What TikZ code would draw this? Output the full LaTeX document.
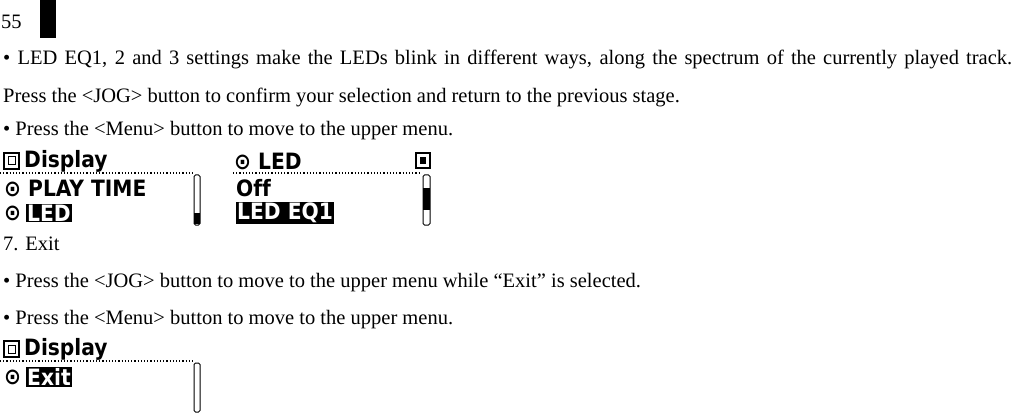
\documentclass[tikz,border=0pt]{standalone}
\usepackage{fontspec}
\setmainfont{Liberation Serif}
\newfontfamily\lcd{DejaVu Sans Condensed}
\begin{document}
\begin{tikzpicture}[x=1pt,y=-1pt,
  body/.style={anchor=west,inner sep=0pt,font=\fontsize{20.5}{24}\selectfont},
  lcdt/.style={anchor=west,inner sep=0pt,font=\lcd\bfseries\fontsize{22.5}{24}\selectfont},
  hl/.style={lcdt,fill=black,text=white,inner xsep=1pt,inner ysep=1pt},
  dots/.style={line width=1.2pt,dotted},
  sbar/.style={draw,line width=1pt,rounded corners=1.5pt},
  icon/.style={draw,line width=1.5pt}]
\useasboundingbox (0,0) rectangle (1014,414);
\node[body] (pg) at (1,22) {55};
\fill (40,0) rectangle (56,38);
\node[body] (l1) at (3,59) {\makebox[1009pt][s]{• LED EQ1, 2 and 3 settings make the LEDs blink in different ways, along the spectrum of the currently played track.}};
\node[body] (l2) at (3,97) {Press the <JOG> button to confirm your selection and return to the previous stage.};
\node[body] (l3) at (3,131) {• Press the <Menu> button to move to the upper menu.};
% LCD 1
\draw[icon] (4,153) rectangle (19,169); \draw[line width=1pt] (8,157) rectangle (15,165);
\node[lcdt] (d1) at (24,161) {Display};
\draw[dots] (0,173) -- (194,173);
\node[lcdt] (p1) at (4,188) {⊙ PLAY TIME};
\node[lcdt] (c1) at (4,213) {⊙};
\node[hl] (led1) at (26,213) {LED};
\draw[sbar] (194,175) rectangle (200,225); \fill (194,213) rectangle (200,224);
% LCD 2
\node[lcdt] (c2) at (234,161) {⊙ LED};
\draw[icon] (416,153) rectangle (430,168); \fill (420,157) rectangle (426,164);
\draw[dots] (233,173) -- (420,173);
\node[lcdt] (off) at (236,188) {O\kern0pt f\kern0pt f};
\node[hl] (eq) at (236,213) {LED EQ1};
\draw[sbar] (423,175) rectangle (430,225); \fill (423,188) rectangle (430,210);
\node[body] (s7) at (3,244) {7. Exit};
\node[body] (l4) at (3,283) {• Press the <JOG> button to move to the upper menu while “Exit” is selected.};
\node[body] (l5) at (3,320) {• Press the <Menu> button to move to the upper menu.};
% LCD 3
\draw[icon] (4,341) rectangle (19,357); \draw[line width=1pt] (8,345) rectangle (15,353);
\node[lcdt] (d3) at (24,349) {Display};
\draw[dots] (0,361) -- (194,361);
\node[lcdt] (c3) at (4,377) {⊙};
\node[hl] (ex) at (26,377) {Exit};
\draw[sbar] (194,363) rectangle (200,412);
\end{tikzpicture}
\end{document}
